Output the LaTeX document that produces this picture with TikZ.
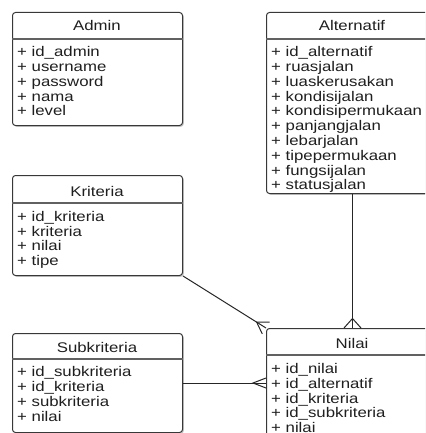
\documentclass[tikz,border=0pt]{standalone}
\usepackage{fontspec}
\setmainfont{Liberation Sans}[FakeStretch=1.2]
\usetikzlibrary{calc,shadows}
\tikzset{
  entity/.style={draw=black!78, line width=1pt, rounded corners=3pt, fill=white,
    anchor=north west, inner sep=0pt, minimum width=170pt,
    drop shadow={shadow xshift=1.3pt, shadow yshift=-1.3pt, opacity=0.22, fill=black}},
  etitle/.style={font=\fontsize{14}{16}\selectfont, text=black!88, inner sep=0pt, anchor=base},
  eattr/.style={font=\fontsize{14}{16}\selectfont, text=black!88, inner sep=0pt, anchor=base west},
  esep/.style={draw=black!62, line width=1.7pt},
  conn/.style={draw=black!85, line width=1pt},
}
\begin{document}
\begin{tikzpicture}[x=1pt,y=-1pt]
\useasboundingbox (0,0) rectangle (425,433);
\clip (0,0) rectangle (425,433);

% Admin
\node[entity, minimum height=113pt] (admin) at (12,12) {};
\node[etitle] (admin-t) at (97,31) {Admin};
\draw[esep] ($(admin.north west)+(0,27)$) -- ($(admin.north east)+(0,27)$);
\foreach [count=\k from 0] \t in {id\_admin, username, password, nama, level}
  \node[eattr] (admin-\k) at (17,57+14.7*\k) {+ \t};

% Alternatif
\node[entity, minimum width=172pt, minimum height=181pt] (alt) at (266,12) {};
\node[etitle] (alt-t) at (352,31) {Alternatif};
\draw[esep] ($(alt.north west)+(0,27)$) -- ($(alt.north east)+(0,27)$);
\foreach [count=\k from 0] \t in {id\_alternatif, ruasjalan, luaskerusakan, kondisijalan, kondisipermukaan, panjangjalan, lebarjalan, tipepermukaan, fungsijalan, statusjalan}
  \node[eattr] (alt-\k) at (271,57+14.75*\k) {+ \t};

% Kriteria
\node[entity, minimum height=100pt] (krit) at (12,175) {};
\node[etitle] (krit-t) at (97,196) {Kriteria};
\draw[esep] ($(krit.north west)+(0,28)$) -- ($(krit.north east)+(0,28)$);
\foreach [count=\k from 0] \t in {id\_kriteria, kriteria, nilai, tipe}
  \node[eattr] (krit-\k) at (17,221.5+14.6*\k) {+ \t};

% Subkriteria
\node[entity, minimum height=99pt] (subk) at (12,333) {};
\node[etitle] (subk-t) at (97,352) {Subkriteria};
\draw[esep] ($(subk.north west)+(0,26)$) -- ($(subk.north east)+(0,26)$);
\foreach [count=\k from 0] \t in {id\_subkriteria, id\_kriteria, subkriteria, nilai}
  \node[eattr] (subk-\k) at (17,376.5+15*\k) {+ \t};

% Nilai
\node[entity, minimum width=172pt, minimum height=130pt] (nilai) at (266,328) {};
\node[etitle] (nilai-t) at (352,348) {Nilai};
\draw[esep] ($(nilai.north west)+(0,27)$) -- ($(nilai.north east)+(0,27)$);
\foreach [count=\k from 0] \t in {id\_nilai, id\_alternatif, id\_kriteria, id\_subkriteria, nilai}
  \node[eattr] (nilai-\k) at (271,373.5+14.75*\k) {+ \t};

% Connectors
\draw[conn] (alt.south) -- (nilai.north);
\draw[conn] ($(nilai.north)+(-8.5,0)$) -- ($(nilai.north)+(0,-9.5)$) -- ($(nilai.north)+(8.5,0)$);

\coordinate (nl) at (nilai.north west |- subk.east);
\draw[conn] (subk.east) -- (nl);
\draw[conn] ($(nl)+(0,-5)$) -- ($(nl)+(-13,0)$) -- ($(nl)+(0,5)$);

\draw[conn] (krit.south east) -- (nilai.north west);
\coordinate (kapex) at ($(nilai.north west)!11pt!(krit.south east)$);
\draw[conn] ($(nilai.north west)!7pt!90:(krit.south east)$) -- (kapex) -- ($(nilai.north west)!7pt!-90:(krit.south east)$);
\end{tikzpicture}
\end{document}
